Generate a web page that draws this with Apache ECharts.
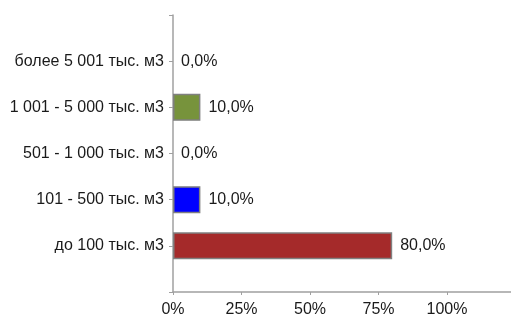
<!DOCTYPE html>
<html>
<head>
<meta charset="utf-8">
<script src="https://cdn.jsdelivr.net/npm/echarts@6/dist/echarts.min.js"></script>
<style>
  html, body { margin: 0; padding: 0; background: #fff; }
  #chart { width: 511px; height: 316px; }
</style>
</head>
<body>
<div id="chart"></div>
<script>
// categories bottom to top, padded with empty slots at both ends
const categories = ['', 'до 100 тыс. м3', '101 - 500 тыс. м3', '501 - 1 000 тыс. м3', '1 001 - 5 000 тыс. м3', 'более 5 001 тыс. м3', '']
const values = [null, 80, 10, 0, 10, 0, null]
const barColors = ['#fff', '#a52a2a', '#0000ff', '#ffffff', '#77933c', '#ffffff', '#fff']
const xTicks = [0, 25, 50, 75, 100]

const chart = echarts.init(document.getElementById('chart'))
const axisColor = '#a0a0a0'
const font = 'Liberation Sans, Arial, sans-serif'

const options = {
  animation: false,
  grid: {
    left: 173,
    top: 15,
    width: 342.5,
    bottom: 24,
    outerBoundsMode: 'none',
    containLabel: false
  },
  xAxis: {
    type: 'value',
    min: 0,
    max: 125,
    interval: 25,
    axisLine: { show: true, lineStyle: { color: axisColor, width: 1.5 } },
    axisTick: { show: true, length: 3, lineStyle: { color: axisColor } },
    splitLine: { show: false },
    axisLabel: {
      color: '#1a1a1a',
      fontSize: 16,
      fontFamily: font,
      margin: 10,
      formatter: function (v) {
        return xTicks.indexOf(v) >= 0 ? v + '%' : ''
      }
    }
  },
  yAxis: {
    type: 'category',
    data: categories,
    boundaryGap: false,
    axisLine: { show: true, lineStyle: { color: axisColor, width: 1.5 } },
    axisTick: { show: true, length: 4, lineStyle: { color: axisColor } },
    axisLabel: {
      color: '#1a1a1a',
      fontSize: 16,
      fontFamily: font,
      margin: 9
    }
  },
  series: [{
    type: 'bar',
    barWidth: 27,
    data: values.map(function (v, i) {
      return {
        value: v,
        itemStyle: {
          color: barColors[i],
          borderColor: v ? '#808080' : 'transparent',
          borderWidth: v ? 1.5 : 0
        }
      }
    }),
    label: {
      show: true,
      position: 'right',
      distance: 8,
      color: '#1a1a1a',
      fontSize: 16,
      fontFamily: font,
      formatter: function (p) {
        return p.value == null ? '' : p.value.toFixed(1).replace('.', ',') + '%'
      }
    }
  }]
}
chart.setOption(options)
</script>
</body>
</html>
